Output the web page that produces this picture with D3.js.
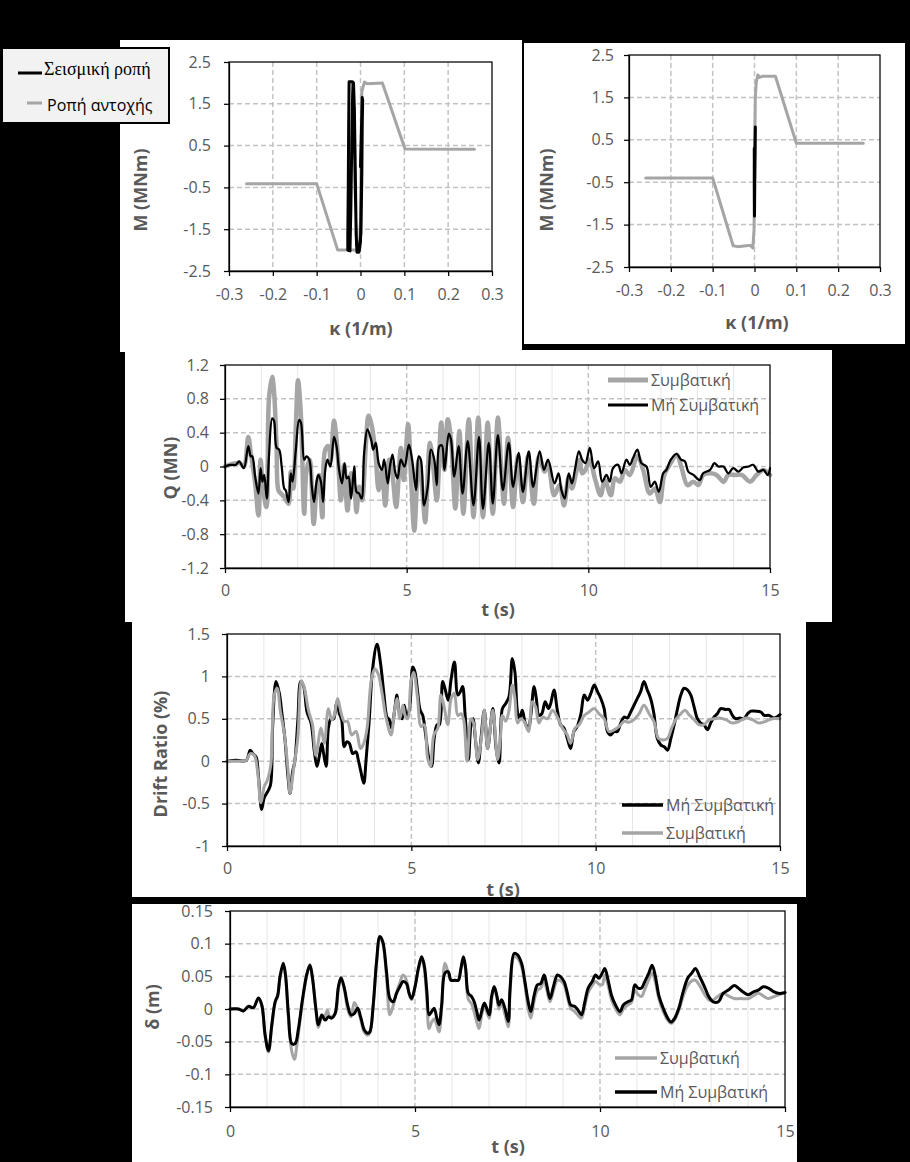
<!DOCTYPE html>
<html><head><meta charset="utf-8">
<script src="https://cdn.jsdelivr.net/npm/d3@7"></script>
<style>body{margin:0;background:#000;}svg{display:block}</style>
</head><body><svg id="c" width="910" height="1162"></svg>
<script>
// ---------------- DATA ----------------
const kappaTicks = [-0.3,-0.2,-0.1,0,0.1,0.2,0.3];
const momentTicks = [2.5,1.5,0.5,-0.5,-1.5,-2.5];
const timeTicks = [0,5,10,15];
const timeMinor = [1,2,3,4,6,7,8,9,11,12,13,14];
const qTicks = [1.2,0.8,0.4,0,-0.4,-0.8,-1.2];
const driftTicks = [1.5,1,0.5,0,-0.5,-1];
const deltaTicks = [0.15,0.1,0.05,0,-0.05,-0.1,-0.15];

const seriesConv = "Συμβατική";
const seriesNonConv = "Μή Συμβατική";
const legendSeismic = "Σεισμική ροπή";
const legendCapacity = "Ροπή αντοχής";

// Panel 1: [kappa, M]
const capacity1 = [[-0.26,-0.41],[-0.1,-0.41],[-0.052,-2.0],[-0.04,-2.0],[-0.01,-2.0],[-0.003,-2.05],[0,-1.3],[0.002,1.0],[0.003,1.8],[0.009,2.02],[0.015,1.98],[0.05,2.0],[0.1015,0.42],[0.26,0.41]];
const seismic1 = [[0,0],[0.002,0.8],[0.004,1.65],[0.004,1.0],[0.002,-0.6],[0.0,-1.8],[-0.003,-2.02],[-0.008,-2.05],[-0.01,-1.6],[-0.012,0.0],[-0.014,1.4],[-0.016,2.0],[-0.019,2.03],[-0.026,2.03],[-0.027,1.0],[-0.028,-0.6],[-0.029,-1.7],[-0.029,-2.0],[-0.024,-2.02],[-0.022,-1.0],[-0.02,0.5],[-0.018,1.7],[-0.017,2.0],[-0.015,1.5],[-0.012,-0.5],[-0.009,-1.9],[-0.004,-2.05],[0.001,-1.6],[0.003,-0.2],[0.004,1.0],[0.005,1.6]];
// Panel 2
const capacity2 = [[-0.26,-0.4],[-0.1,-0.4],[-0.051,-2.0],[-0.04,-2.02],[-0.02,-2.0],[-0.01,-1.99],[-0.004,-2.05],[-0.001,-1.6],[0.0,0.0],[0.002,1.5],[0.004,1.85],[0.008,2.03],[0.012,1.97],[0.02,2.0],[0.05,2.0],[0.1,0.42],[0.26,0.42]];
const seismic2 = [[0.0,-1.3],[0.0008,-0.3],[0.0015,0.5],[0.002,0.8],[0.0015,0.2],[0.0005,-0.6],[0.0,-1.3],[-0.0005,-0.5],[-0.0005,0.3]];

// Q (MN) vs t (s)
const qConv = [[0,0],[0.2,0.03],[0.4,0.04],[0.52,0.0],[0.64,0.35],[0.71,0.16],[0.83,-0.2],[0.92,-0.58],[0.98,0.08],[1.04,-0.24],[1.14,-0.48],[1.21,0.8],[1.3,1.06],[1.35,0.88],[1.42,0.24],[1.47,-0.28],[1.54,-0.32],[1.63,-0.36],[1.75,-0.44],[1.81,-0.06],[1.88,-0.26],[1.95,0.48],[2.01,1.02],[2.09,0.6],[2.18,-0.56],[2.24,-0.06],[2.33,0.08],[2.44,-0.68],[2.52,-0.26],[2.59,-0.1],[2.68,-0.6],[2.76,0.2],[2.85,0.24],[2.91,0.08],[3.0,0.54],[3.1,0.16],[3.19,-0.4],[3.28,0.02],[3.37,-0.52],[3.47,-0.08],[3.56,-0.24],[3.62,-0.54],[3.69,-0.24],[3.77,-0.4],[3.88,0.28],[3.95,0.6],[4.04,0.48],[4.14,0.16],[4.23,-0.28],[4.32,-0.04],[4.41,-0.46],[4.52,0.08],[4.61,-0.1],[4.71,-0.48],[4.84,0.22],[4.92,-0.16],[5.04,0.5],[5.12,-0.12],[5.21,-0.76],[5.33,0.08],[5.44,-0.32],[5.51,-0.66],[5.64,0.28],[5.73,0],[5.83,-0.4],[5.95,0.52],[6.04,-0.04],[6.13,0.56],[6.22,0.32],[6.34,-0.5],[6.45,0.42],[6.56,-0.56],[6.71,0.56],[6.84,-0.6],[6.97,0.58],[7.1,-0.6],[7.23,0.52],[7.37,-0.56],[7.51,0.58],[7.6,0.0],[7.68,-0.44],[7.79,0.34],[7.93,-0.48],[8.06,0.12],[8.2,-0.42],[8.34,0.12],[8.5,-0.44],[8.64,0.12],[8.8,-0.06],[8.89,0.04],[9.06,-0.34],[9.21,-0.22],[9.33,-0.46],[9.46,-0.12],[9.55,-0.26],[9.67,-0.06],[9.76,0.08],[9.83,-0.08],[9.92,-0.04],[10.04,0.08],[10.18,-0.14],[10.34,-0.34],[10.45,-0.16],[10.62,-0.34],[10.73,-0.14],[10.87,-0.18],[11.0,-0.04],[11.14,-0.1],[11.35,0.12],[11.51,-0.04],[11.69,-0.32],[11.83,-0.26],[11.97,-0.42],[12.09,-0.1],[12.27,0.04],[12.43,0.14],[12.57,-0.02],[12.73,-0.22],[12.89,-0.18],[13.03,-0.22],[13.16,-0.1],[13.35,-0.08],[13.53,-0.1],[13.72,-0.18],[13.85,-0.1],[14.04,-0.1],[14.22,-0.1],[14.45,-0.18],[14.63,-0.1],[14.82,-0.04],[15.0,-0.1]];
const qNonConv = [[0,0],[0.15,0.02],[0.3,0.02],[0.39,0.06],[0.52,-0.02],[0.64,0.24],[0.71,0.12],[0.75,0.12],[0.83,-0.12],[0.92,-0.32],[0.98,-0.02],[1.03,-0.18],[1.08,-0.1],[1.15,-0.38],[1.21,0.12],[1.3,0.57],[1.35,0.54],[1.42,0.22],[1.49,0.2],[1.56,0],[1.63,-0.26],[1.67,-0.28],[1.75,-0.42],[1.81,-0.08],[1.86,-0.18],[1.95,0.2],[2.04,0.55],[2.09,0.52],[2.18,0.08],[2.24,0.12],[2.32,0.08],[2.39,-0.24],[2.45,-0.42],[2.52,-0.18],[2.57,-0.1],[2.64,-0.18],[2.7,-0.42],[2.76,-0.04],[2.82,0.08],[2.9,0],[3.0,0.35],[3.07,0.24],[3.14,-0.04],[3.22,-0.2],[3.29,0.04],[3.35,-0.14],[3.4,-0.12],[3.47,-0.38],[3.56,0],[3.62,-0.3],[3.69,-0.32],[3.76,-0.38],[3.83,0.16],[3.92,0.44],[4.02,0.32],[4.08,0.2],[4.15,0.28],[4.23,0.04],[4.32,-0.04],[4.38,0.08],[4.48,-0.2],[4.54,0],[4.61,0.14],[4.69,-0.08],[4.75,-0.14],[4.84,0.08],[4.94,0],[5.06,0.26],[5.15,0.08],[5.26,-0.28],[5.33,0.12],[5.39,0.08],[5.48,-0.46],[5.58,-0.24],[5.67,0.2],[5.76,0.08],[5.83,-0.22],[5.9,0.24],[5.97,0.25],[6.04,-0.04],[6.16,0.39],[6.22,0.32],[6.31,-0.12],[6.43,0.24],[6.54,-0.32],[6.68,0.3],[6.84,-0.46],[6.99,0.35],[7.1,-0.5],[7.26,0.28],[7.37,-0.44],[7.51,0.37],[7.65,-0.28],[7.81,0.28],[7.93,-0.24],[8.08,0.16],[8.2,-0.3],[8.36,0.18],[8.48,-0.24],[8.66,0.18],[8.78,-0.04],[8.89,0.08],[9.07,-0.2],[9.18,-0.08],[9.26,-0.28],[9.35,-0.38],[9.46,-0.08],[9.55,-0.2],[9.63,-0.04],[9.74,0.18],[9.83,0.08],[9.92,0.04],[10.04,0.22],[10.16,-0.02],[10.27,0.06],[10.38,-0.18],[10.5,-0.1],[10.59,-0.18],[10.68,-0.02],[10.82,0.02],[10.91,-0.08],[11.05,0.08],[11.14,0.02],[11.23,0.1],[11.35,0.2],[11.46,0.04],[11.6,0],[11.72,-0.24],[11.83,-0.18],[11.94,-0.3],[12.06,-0.08],[12.15,-0.04],[12.27,0.08],[12.43,0.15],[12.55,0.08],[12.66,0.06],[12.75,-0.06],[12.89,-0.1],[13.07,-0.16],[13.16,-0.08],[13.35,-0.04],[13.47,0.04],[13.58,0],[13.72,0],[13.85,-0.08],[13.99,-0.02],[14.13,-0.06],[14.27,-0.01],[14.41,0],[14.54,0.02],[14.68,-0.06],[14.82,-0.04],[14.94,-0.1],[15.0,-0.02]];

// Drift ratio (%) vs t (s)
const driftNonConv = [[0,0],[0.25,0.01],[0.52,0.01],[0.63,0.13],[0.7,0.09],[0.79,0.05],[0.85,-0.16],[0.94,-0.57],[1.01,-0.43],[1.1,-0.36],[1.18,-0.28],[1.24,0.43],[1.33,0.94],[1.42,0.8],[1.49,0.56],[1.57,0.27],[1.65,-0.16],[1.71,-0.38],[1.78,-0.12],[1.84,0],[1.92,0.47],[2.0,0.94],[2.08,0.88],[2.17,0.58],[2.28,0.45],[2.37,0.11],[2.44,-0.06],[2.5,0.05],[2.57,0.21],[2.62,0.09],[2.69,-0.06],[2.75,0.39],[2.82,0.5],[2.89,0.5],[2.98,0.7],[3.05,0.56],[3.11,0.49],[3.18,0.17],[3.25,0.23],[3.32,0.21],[3.41,0.09],[3.5,0.11],[3.56,0.02],[3.63,-0.12],[3.71,-0.26],[3.77,0],[3.86,0.5],[3.95,1.09],[4.07,1.38],[4.16,1.17],[4.25,0.82],[4.34,0.52],[4.4,0.49],[4.47,0.39],[4.54,0.58],[4.61,0.78],[4.67,0.58],[4.75,0.5],[4.81,0.66],[4.87,0.52],[4.95,0.62],[5.04,1.11],[5.1,1.05],[5.17,0.82],[5.24,0.6],[5.31,0.54],[5.4,0.27],[5.49,0],[5.55,-0.06],[5.62,0.27],[5.7,0.43],[5.76,0.43],[5.85,0.94],[5.91,0.86],[6.0,0.72],[6.08,0.97],[6.17,1.17],[6.26,0.78],[6.33,0.82],[6.39,0.88],[6.46,0.54],[6.55,0.02],[6.62,0.43],[6.68,0.5],[6.73,0.29],[6.82,-0.02],[6.89,0.27],[6.98,0.6],[7.07,0.15],[7.21,0.62],[7.3,0.15],[7.38,-0.02],[7.47,0.62],[7.56,0.68],[7.65,0.76],[7.74,1.21],[7.81,1.05],[7.88,0.58],[7.94,0.5],[8.01,0.6],[8.09,0.45],[8.18,0.39],[8.24,0.54],[8.33,0.88],[8.39,0.74],[8.46,0.54],[8.54,0.56],[8.63,0.7],[8.72,0.62],[8.78,0.68],[8.87,0.84],[8.96,0.6],[9.05,0.43],[9.14,0.39],[9.23,0.27],[9.32,0.15],[9.41,0.35],[9.5,0.41],[9.6,0.56],[9.69,0.78],[9.78,0.72],[9.87,0.8],[9.96,0.9],[10.05,0.82],[10.14,0.74],[10.23,0.62],[10.32,0.35],[10.41,0.31],[10.5,0.35],[10.59,0.35],[10.68,0.45],[10.77,0.52],[10.86,0.51],[10.95,0.58],[11.04,0.66],[11.13,0.74],[11.22,0.82],[11.31,0.94],[11.4,0.84],[11.49,0.74],[11.58,0.56],[11.67,0.27],[11.77,0.19],[11.86,0.17],[11.95,0.13],[12.04,0.27],[12.13,0.43],[12.22,0.62],[12.31,0.78],[12.4,0.86],[12.49,0.84],[12.58,0.78],[12.67,0.64],[12.76,0.5],[12.85,0.45],[12.94,0.43],[13.03,0.37],[13.12,0.45],[13.21,0.52],[13.3,0.56],[13.39,0.62],[13.53,0.61],[13.62,0.61],[13.71,0.54],[13.8,0.5],[13.91,0.51],[14.02,0.5],[14.12,0.56],[14.21,0.59],[14.34,0.59],[14.48,0.58],[14.57,0.54],[14.7,0.54],[14.84,0.51],[15.0,0.55]];
const driftConv = [[0,0],[0.25,0.0],[0.52,0.01],[0.63,0.09],[0.74,0.07],[0.83,-0.12],[0.92,-0.49],[1.01,-0.3],[1.1,-0.22],[1.19,-0.04],[1.28,0.78],[1.36,0.86],[1.45,0.58],[1.56,0.31],[1.65,-0.08],[1.71,-0.38],[1.81,-0.08],[1.92,0.27],[2.02,0.95],[2.1,0.86],[2.21,0.6],[2.32,0.43],[2.41,0.07],[2.55,0.39],[2.64,0.21],[2.75,0.62],[2.84,0.49],[2.91,0.54],[3.0,0.74],[3.09,0.58],[3.18,0.47],[3.27,0.47],[3.38,0.31],[3.5,0.35],[3.62,0.15],[3.71,0.21],[3.8,0.39],[3.91,0.94],[4.01,1.09],[4.1,1.03],[4.2,0.82],[4.31,0.52],[4.45,0.31],[4.54,0.58],[4.61,0.74],[4.69,0.5],[4.77,0.66],[4.83,0.54],[4.9,0.5],[4.99,0.94],[5.06,1.05],[5.17,0.74],[5.26,0.41],[5.35,0.43],[5.44,0.04],[5.52,-0.06],[5.61,0.31],[5.72,0.39],[5.8,0.78],[5.89,0.64],[5.99,0.43],[6.08,0.74],[6.17,0.8],[6.26,0.54],[6.35,0.56],[6.42,0.49],[6.51,0],[6.62,0.5],[6.69,0.45],[6.8,0.02],[6.91,0.31],[6.98,0.6],[7.07,0.15],[7.21,0.6],[7.34,0.02],[7.42,0.3],[7.47,0.54],[7.56,0.47],[7.65,0.6],[7.74,0.9],[7.81,0.74],[7.88,0.45],[7.97,0.5],[8.06,0.47],[8.18,0.35],[8.28,0.7],[8.37,0.64],[8.46,0.45],[8.56,0.52],[8.69,0.5],[8.83,0.6],[8.96,0.52],[9.1,0.39],[9.23,0.31],[9.32,0.21],[9.44,0.39],[9.55,0.43],[9.69,0.54],[9.82,0.58],[9.96,0.62],[10.09,0.56],[10.23,0.5],[10.36,0.35],[10.5,0.37],[10.64,0.41],[10.77,0.47],[10.91,0.46],[11.04,0.49],[11.18,0.56],[11.31,0.66],[11.45,0.56],[11.58,0.47],[11.7,0.27],[11.81,0.25],[11.95,0.27],[12.06,0.39],[12.17,0.49],[12.31,0.56],[12.42,0.6],[12.55,0.54],[12.67,0.49],[12.8,0.43],[12.94,0.43],[13.08,0.49],[13.21,0.5],[13.35,0.51],[13.53,0.49],[13.71,0.45],[13.89,0.47],[14.07,0.51],[14.25,0.49],[14.43,0.45],[14.61,0.47],[14.79,0.5],[15.0,0.5]];

// delta (m) vs t (s)
const deltaNonConv = [[0,0],[0.23,0.0],[0.36,-0.003],[0.5,0.004],[0.63,0.002],[0.77,0.017],[0.86,0.006],[0.95,-0.04],[1.04,-0.064],[1.13,-0.024],[1.22,0.011],[1.29,0.021],[1.35,0.049],[1.44,0.07],[1.5,0.052],[1.58,-0.009],[1.67,-0.053],[1.76,-0.053],[1.85,-0.03],[1.95,0.011],[2.07,0.052],[2.16,0.067],[2.23,0.047],[2.32,0.001],[2.39,-0.024],[2.48,-0.009],[2.57,-0.017],[2.66,-0.012],[2.75,-0.014],[2.84,-0.007],[2.93,0.034],[3.0,0.048],[3.09,0.032],[3.18,0.006],[3.27,-0.009],[3.36,-0.007],[3.45,0.001],[3.54,-0.014],[3.63,-0.032],[3.72,-0.037],[3.78,-0.035],[3.87,0.006],[3.96,0.072],[4.05,0.111],[4.13,0.103],[4.23,0.057],[4.32,0.016],[4.41,0.011],[4.5,0.024],[4.59,0.034],[4.68,0.042],[4.77,0.039],[4.84,0.024],[4.91,0.016],[5.0,0.034],[5.09,0.062],[5.18,0.08],[5.25,0.067],[5.32,0.027],[5.38,-0.009],[5.45,-0.004],[5.52,0.001],[5.59,-0.014],[5.65,-0.024],[5.72,0.006],[5.81,0.055],[5.9,0.057],[5.97,0.044],[6.08,0.044],[6.17,0.044],[6.24,0.062],[6.31,0.08],[6.37,0.062],[6.44,0.024],[6.53,0.019],[6.6,0.011],[6.67,-0.004],[6.73,-0.017],[6.8,-0.004],[6.87,0.009],[6.94,0.001],[7.01,-0.009],[7.07,0.019],[7.14,0.034],[7.21,0.021],[7.27,0.006],[7.34,0.014],[7.43,0.001],[7.52,-0.019],[7.57,0.032],[7.68,0.085],[7.77,0.083],[7.88,0.07],[7.97,0.042],[8.06,0.011],[8.13,-0.004],[8.22,0.021],[8.31,0.037],[8.4,0.039],[8.49,0.052],[8.56,0.037],[8.65,0.016],[8.74,0.034],[8.85,0.052],[8.94,0.049],[9.03,0.042],[9.12,0.024],[9.21,0.006],[9.32,0.004],[9.41,-0.002],[9.5,-0.009],[9.59,0.011],[9.68,0.032],[9.79,0.042],[9.88,0.052],[9.97,0.047],[10.06,0.055],[10.13,0.062],[10.22,0.044],[10.31,0.021],[10.42,0.006],[10.54,-0.004],[10.63,0.006],[10.75,0.011],[10.85,0.014],[10.94,0.037],[11.03,0.032],[11.12,0.032],[11.21,0.042],[11.32,0.055],[11.41,0.067],[11.5,0.049],[11.59,0.021],[11.71,0.001],[11.83,-0.014],[11.92,-0.02],[12.02,-0.014],[12.13,0.001],[12.25,0.027],[12.37,0.047],[12.48,0.055],[12.58,0.062],[12.7,0.049],[12.84,0.032],[12.94,0.019],[13.06,0.011],[13.2,0.011],[13.33,0.024],[13.47,0.029],[13.63,0.036],[13.74,0.032],[13.87,0.026],[14.01,0.022],[14.14,0.026],[14.28,0.029],[14.41,0.034],[14.55,0.032],[14.68,0.027],[14.82,0.024],[15.0,0.025]];
const deltaConv = [[0,0],[0.23,0.0],[0.36,-0.003],[0.5,0.004],[0.63,0.002],[0.77,0.016],[0.86,0.005],[0.95,-0.042],[1.04,-0.066],[1.13,-0.026],[1.22,0.01],[1.29,0.02],[1.35,0.047],[1.44,0.068],[1.5,0.05],[1.58,-0.015],[1.67,-0.065],[1.74,-0.077],[1.82,-0.05],[1.95,0.008],[2.07,0.05],[2.16,0.068],[2.23,0.047],[2.32,0.0],[2.39,-0.028],[2.48,-0.012],[2.57,-0.01],[2.63,-0.002],[2.7,-0.012],[2.84,-0.008],[2.93,0.032],[3.0,0.047],[3.09,0.03],[3.18,0.0],[3.27,-0.012],[3.36,0.01],[3.45,0.0],[3.54,-0.018],[3.63,-0.036],[3.72,-0.04],[3.78,-0.036],[3.87,0.004],[3.96,0.07],[4.05,0.109],[4.13,0.1],[4.23,0.05],[4.32,-0.009],[4.41,0.005],[4.5,0.025],[4.59,0.04],[4.68,0.052],[4.77,0.044],[4.84,0.024],[4.91,0.014],[5.0,0.034],[5.09,0.06],[5.18,0.077],[5.25,0.062],[5.32,0.015],[5.38,-0.03],[5.45,-0.02],[5.52,-0.015],[5.59,-0.025],[5.65,-0.035],[5.72,0.0],[5.81,0.07],[5.9,0.055],[5.97,0.045],[6.08,0.044],[6.17,0.044],[6.24,0.06],[6.31,0.077],[6.37,0.058],[6.44,0.015],[6.53,0.008],[6.6,-0.005],[6.67,-0.02],[6.73,-0.03],[6.8,-0.01],[6.87,0.005],[6.94,-0.005],[7.01,-0.014],[7.07,0.015],[7.14,0.035],[7.21,0.018],[7.27,0.0],[7.34,0.008],[7.43,-0.008],[7.52,-0.027],[7.57,0.025],[7.68,0.08],[7.77,0.078],[7.88,0.065],[7.97,0.037],[8.06,0.0],[8.13,-0.014],[8.22,0.012],[8.31,0.029],[8.4,0.032],[8.49,0.044],[8.56,0.03],[8.65,0.011],[8.74,0.028],[8.85,0.044],[8.94,0.043],[9.03,0.037],[9.12,0.018],[9.21,0.001],[9.32,-0.004],[9.41,-0.01],[9.5,-0.014],[9.59,0.005],[9.68,0.025],[9.79,0.036],[9.88,0.042],[9.97,0.038],[10.06,0.037],[10.13,0.052],[10.22,0.036],[10.31,0.014],[10.42,0.0],[10.54,-0.009],[10.63,0.0],[10.75,0.006],[10.85,0.01],[10.94,0.029],[11.03,0.022],[11.12,0.019],[11.21,0.03],[11.32,0.045],[11.41,0.055],[11.5,0.04],[11.59,0.016],[11.71,-0.004],[11.83,-0.017],[11.92,-0.022],[12.02,-0.016],[12.13,-0.002],[12.25,0.02],[12.37,0.036],[12.48,0.043],[12.58,0.044],[12.7,0.035],[12.84,0.021],[12.94,0.014],[13.06,0.014],[13.2,0.02],[13.33,0.024],[13.47,0.02],[13.63,0.016],[13.8,0.016],[14.01,0.016],[14.14,0.02],[14.28,0.024],[14.41,0.02],[14.55,0.016],[14.75,0.02],[15.0,0.026]];

// ---------------- DRAWING ----------------
const FONT = "'Open Sans','Noto Sans',sans-serif";
const TXT = '#595959';
const GRAY = '#a5a5a5';
const svg = d3.select('#c');
const defs = svg.append('defs');
svg.append('rect').attr('width',910).attr('height',1162).attr('fill','#000');

function chart(o){
  defs.append('clipPath').attr('id',o.id).append('rect')
    .attr('x',o.panel[0]).attr('y',o.panel[1]).attr('width',o.panel[2]-o.panel[0]).attr('height',o.panel[3]-o.panel[1]);
  const g = svg.append('g').attr('clip-path',`url(#${o.id})`);
  g.append('rect').attr('x',o.panel[0]).attr('y',o.panel[1]).attr('width',o.panel[2]-o.panel[0]).attr('height',o.panel[3]-o.panel[1]).attr('fill','#fff');
  const p = o.plot;
  const x = d3.scaleLinear().domain(o.xDomain).range([p.x0,p.x1]);
  const y = d3.scaleLinear().domain(o.yDomain).range([p.y1,p.y0]);
  (o.minorX||[]).forEach(v=>{
    g.append('line').attr('x1',x(v)).attr('x2',x(v)).attr('y1',p.y0).attr('y2',p.y1).attr('stroke','#e6e6e6').attr('stroke-width',1);
  });
  o.yTicks.filter(v=>v!==o.yDomain[0]&&v!==o.yDomain[1]).forEach(v=>{
    g.append('line').attr('x1',p.x0).attr('x2',p.x1).attr('y1',y(v)).attr('y2',y(v)).attr('stroke','#c3c3c3').attr('stroke-width',1.5).attr('stroke-dasharray','5,3');
  });
  o.xGrid.forEach(v=>{
    g.append('line').attr('x1',x(v)).attr('x2',x(v)).attr('y1',p.y0).attr('y2',p.y1).attr('stroke','#c3c3c3').attr('stroke-width',1.5).attr('stroke-dasharray','5,3');
  });
  o.series.forEach(s=>{
    const line = d3.line().x(d=>x(d[0])).y(d=>y(d[1])).curve(s.curve||d3.curveLinear);
    g.append('path').datum(s.data).attr('d',line).attr('fill','none').attr('stroke',s.color).attr('stroke-width',s.width).attr('stroke-linejoin','round').attr('stroke-linecap','round');
  });
  g.append('rect').attr('x',p.x0).attr('y',p.y0).attr('width',p.x1-p.x0).attr('height',p.y1-p.y0).attr('fill','none').attr('stroke','#000').attr('stroke-width',1.25);
  const ya = g.append('g').attr('transform',`translate(${p.x0},0)`)
    .call(d3.axisLeft(y).tickValues(o.yTicks).tickSize(5).tickSizeOuter(0).tickPadding(o.yPad).tickFormat(o.yFmt));
  const xa = g.append('g').attr('transform',`translate(0,${p.y1})`)
    .call(d3.axisBottom(x).tickValues(o.xTicks).tickSize(5).tickSizeOuter(0).tickPadding(o.xPad).tickFormat(o.xFmt));
  [ya,xa].forEach(a=>{
    a.attr('font-family',FONT).attr('font-size',o.tickSize);
    a.select('.domain').attr('stroke','#000').attr('stroke-width',1.25);
    a.selectAll('.tick line').attr('stroke','#000').attr('stroke-width',1.25);
    a.selectAll('.tick text').attr('fill',TXT);
  });
  g.append('text').attr('x',o.xTitle[1]).attr('y',o.xTitle[2]).attr('text-anchor','middle').attr('dominant-baseline','central')
    .attr('font-family',FONT).attr('font-size',o.titleSize).attr('font-weight','bold').attr('fill',TXT).text(o.xTitle[0]);
  g.append('text').attr('transform',`translate(${o.yTitle[1]},${o.yTitle[2]}) rotate(-90)`).attr('text-anchor','middle').attr('dominant-baseline','central')
    .attr('font-family',FONT).attr('font-size',o.titleSize).attr('font-weight','bold').attr('fill',TXT).text(o.yTitle[0]);
  (o.legend||[]).forEach(l=>{
    g.append('line').attr('x1',l.x0).attr('x2',l.x1).attr('y1',l.y).attr('y2',l.y).attr('stroke',l.color).attr('stroke-width',l.width);
    g.append('text').attr('x',l.x1+3).attr('y',l.y).attr('dominant-baseline','central').attr('font-family',FONT).attr('font-size',o.legendSize).attr('fill',TXT).text(l.label);
  });
  return {g,x,y};
}

const fmt = d=>String(d);
const smooth = d3.curveCatmullRom.alpha(0.5);
const TS = 16, TT = 18;

// Panel 1
chart({id:'p1',panel:[120,40,522,352],plot:{x0:229,x1:492,y0:62,y1:271},xDomain:[-0.3,0.3],yDomain:[-2.5,2.5],
  yTicks:momentTicks,xTicks:kappaTicks,xGrid:[-0.2,-0.1,0,0.1,0.2],yFmt:fmt,xFmt:fmt,yPad:13,xPad:13,tickSize:TS,titleSize:TT,
  series:[{data:capacity1,color:GRAY,width:3},{data:seismic1,color:'#000',width:3}],
  xTitle:['κ (1/m)',361,328],yTitle:['M (MNm)',140,190]});
// Panel 2
chart({id:'p2',panel:[524,43,905,344],plot:{x0:629,x1:880,y0:55,y1:267},xDomain:[-0.3,0.3],yDomain:[-2.5,2.5],
  yTicks:momentTicks,xTicks:kappaTicks,xGrid:[-0.2,-0.1,0,0.1,0.2],yFmt:fmt,xFmt:fmt,yPad:10,xPad:13,tickSize:TS,titleSize:TT,
  series:[{data:capacity2,color:GRAY,width:3},{data:seismic2,color:'#000',width:3}],
  xTitle:['κ (1/m)',757,322],yTitle:['M (MNm)',546,190]});

// Legend of top-left panel
const lg = svg.append('g');
lg.append('rect').attr('x',2).attr('y',48).attr('width',167).attr('height',75).attr('fill','#f2f2f2').attr('stroke','#000').attr('stroke-width',2);
lg.append('line').attr('x1',18).attr('x2',42).attr('y1',73).attr('y2',73).attr('stroke','#000').attr('stroke-width',3);
lg.append('text').attr('x',44).attr('y',69).attr('dominant-baseline','central').attr('font-family',"'Liberation Serif','DejaVu Serif',serif").attr('font-size',18).attr('fill','#000').text(legendSeismic);
lg.append('line').attr('x1',27).attr('x2',42).attr('y1',103).attr('y2',103).attr('stroke',GRAY).attr('stroke-width',3);
lg.append('text').attr('x',47).attr('y',105).attr('dominant-baseline','central').attr('font-family',FONT).attr('font-size',16).attr('fill','#000').text(legendCapacity);

// Q chart
chart({id:'p3',panel:[125,350,832,622],plot:{x0:225,x1:770,y0:365,y1:568},xDomain:[0,15],yDomain:[-1.2,1.2],
  yTicks:qTicks,xTicks:timeTicks,minorX:timeMinor,xGrid:[5,10],yFmt:d=>d===0?'0':d.toFixed(1),xFmt:fmt,yPad:11,xPad:12,tickSize:TS,titleSize:TT,legendSize:16,
  series:[{data:qConv,color:GRAY,width:4.5,curve:smooth},{data:qNonConv,color:'#000',width:2.25,curve:smooth}],
  xTitle:['t (s)',498,609],yTitle:['Q (MN)',170,468],
  legend:[{x0:608,x1:648,y:380,color:GRAY,width:5,label:seriesConv},{x0:608,x1:648,y:405,color:'#000',width:3,label:seriesNonConv}]});

// Drift chart
chart({id:'p4',panel:[132,622,806,897],plot:{x0:227,x1:780,y0:634,y1:846},xDomain:[0,15],yDomain:[-1,1.5],
  yTicks:driftTicks,xTicks:timeTicks,minorX:timeMinor,xGrid:[5,10],yFmt:fmt,xFmt:fmt,yPad:12,xPad:12,tickSize:TS,titleSize:TT,legendSize:16,
  series:[{data:driftNonConv,color:'#000',width:3,curve:smooth},{data:driftConv,color:GRAY,width:3,curve:smooth}],
  xTitle:['t (s)',503,889],yTitle:['Drift Ratio (%)',160,754],
  legend:[{x0:622,x1:663,y:805,color:'#000',width:3.5,label:seriesNonConv},{x0:622,x1:663,y:833,color:GRAY,width:3.5,label:seriesConv}]});

// delta chart
chart({id:'p5',panel:[132,904,797,1162],plot:{x0:230,x1:785,y0:911,y1:1107},xDomain:[0,15],yDomain:[-0.15,0.15],
  yTicks:deltaTicks,xTicks:timeTicks,minorX:timeMinor,xGrid:[5,10],yFmt:fmt,xFmt:fmt,yPad:12,xPad:14,tickSize:TS,titleSize:TT,legendSize:16,
  series:[{data:deltaConv,color:GRAY,width:3,curve:smooth},{data:deltaNonConv,color:'#000',width:3,curve:smooth}],
  xTitle:['t (s)',508,1146],yTitle:['δ (m)',152,1007],
  legend:[{x0:615,x1:657,y:1058,color:GRAY,width:3.5,label:seriesConv},{x0:615,x1:657,y:1092,color:'#000',width:3.5,label:seriesNonConv}]});
</script></body></html>
